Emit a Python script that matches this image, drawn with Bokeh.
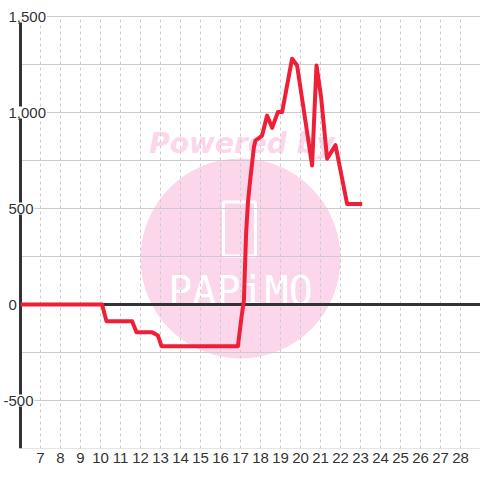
from bokeh.plotting import figure
from bokeh.models import Range1d, FixedTicker, Label
from bokeh.embed import file_html
from bokeh.resources import INLINE
from bokeh.core.properties import value

# ---- data ----
hours = [6, 10.08, 10.3, 11.58, 11.8, 12.58, 12.87, 13.05, 16.87,
         17.05, 17.17, 17.28, 17.38, 17.5, 17.67, 17.75,
         18.08, 18.33, 18.58, 18.87, 19.08, 19.58, 19.83,
         20.58, 20.8, 21.03, 21.33, 21.75, 22.33, 23.08]
balance = [0, 0, -87, -87, -144, -144, -161, -217, -217,
           -66, 21, 370, 542, 663, 819, 854,
           880, 984, 920, 1002, 1002, 1280, 1245,
           724, 1245, 1080, 759, 830, 524, 524]

x_ticks = list(range(7, 29))
y_ticks = [-500, 0, 500, 1000, 1500]
y_tick_labels = ["-500", "0", "500", "1,000", "1,500"]
y_grid = [-750, -500, -250, 250, 500, 750, 1000, 1250, 1500]
x_grid = list(range(7, 30))

X0, X1 = 6, 29
Y0, Y1 = -750, 1500

FONT = "Liberation Sans"
TXT = "#333333"
PINK = "#fcd6eb"

# frame spans the full height above the x labels; 1,500 sits 16px below the top
p = figure(width=480, height=480, output_backend="svg", toolbar_location=None,
           x_range=Range1d(5.0, 29.0), y_range=Range1d(Y0, Y1 + 16 / 0.192),
           y_axis_location=None,
           min_border_left=0, min_border_right=0, min_border_top=0, min_border_bottom=32)
p.outline_line_color = None
p.background_fill_color = "white"
p.border_fill_color = "white"
p.xgrid.visible = False
p.ygrid.visible = False

# watermark
p.scatter(x=[17.0], y=[240], size=200, marker="circle", fill_color=PINK, line_color=None)
p.text(x=[17.08], y=[839], text=["Powered by"], text_font=value("DejaVu Sans"),
       text_font_style="bold italic", text_font_size="28px", text_color=PINK,
       text_align="center", text_baseline="alphabetic")
p.rect(x=[16.95], y=[393], width=32, height=54, width_units="screen", height_units="screen",
       fill_color=None, line_color="white", line_width=3)
p.text(x=[17.0], y=[72], text=["PAPiMO"], text_font=value("DejaVu Sans Mono"),
       text_font_size="40px", text_color="white", text_align="center", text_baseline="middle")

# grid
p.segment(x0=[X0] * len(y_grid), x1=[X1] * len(y_grid), y0=y_grid, y1=y_grid,
          line_color="#cccccc", line_width=1)
p.segment(x0=x_grid, x1=x_grid, y0=[Y0] * len(x_grid), y1=[Y1] * len(x_grid),
          line_color="#cccccc", line_width=1, line_dash="3 3")

# zero line and left axis line
p.segment(x0=[X0], x1=[X1], y0=[0], y1=[0], line_color="#333333", line_width=3)
p.segment(x0=[X0], x1=[X0], y0=[Y0], y1=[Y1], line_color="#333333", line_width=3)

# series
p.line(hours, balance, line_color="#ee1f37", line_width=4, line_join="round")

# y labels
for t, lab in zip(y_ticks, y_tick_labels):
    off = -18 if lab.startswith("-") else -13
    p.add_layout(Label(x=X0, y=t, text=lab, x_offset=off, text_align="left",
                       text_baseline="middle", text_font=FONT, text_font_size="15px",
                       text_color=TXT, background_fill_color="white", padding=1))

# x axis
ax = p.xaxis[0]
ax.ticker = FixedTicker(ticks=x_ticks)
ax.axis_line_color = None
ax.major_tick_line_color = None
ax.minor_tick_line_color = None
ax.major_tick_out = 0
ax.major_tick_in = 0
ax.major_label_standoff = 4
ax.major_label_text_font = FONT
ax.major_label_text_font_size = "15px"
ax.major_label_text_color = TXT

open("out.html", "w").write(file_html(p, INLINE))
